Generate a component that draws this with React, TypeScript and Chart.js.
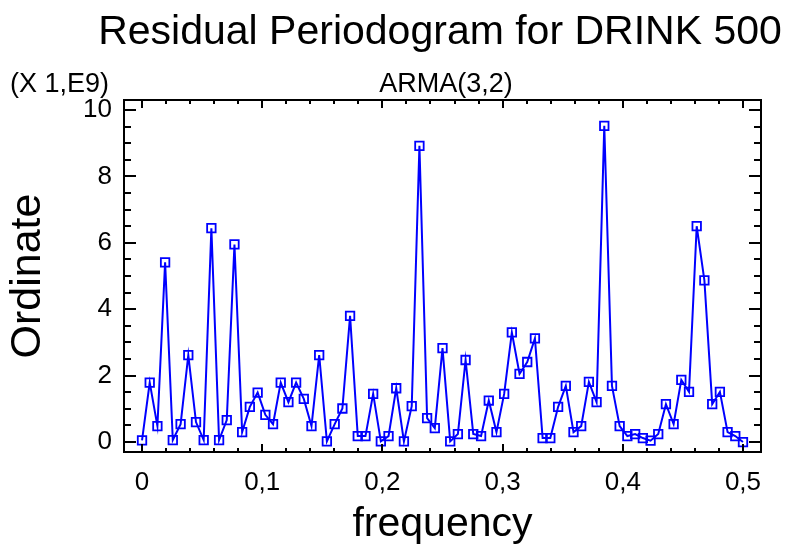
import React, { useEffect, useRef } from 'react';
import { Chart, registerables } from 'chart.js';

Chart.register(...registerables);

// ---- data ----
const FREQUENCY = [
  0.0, 0.0064, 0.0128, 0.0192, 0.0256, 0.0321, 0.0385, 0.0449, 0.0513, 0.0577,
  0.0641, 0.0705, 0.0769, 0.0833, 0.0897, 0.0962, 0.1026, 0.109, 0.1154, 0.1218,
  0.1282, 0.1346, 0.141, 0.1474, 0.1538, 0.1603, 0.1667, 0.1731, 0.1795, 0.1859,
  0.1923, 0.1987, 0.2051, 0.2115, 0.2179, 0.2244, 0.2308, 0.2372, 0.2436, 0.25,
  0.2564, 0.2628, 0.2692, 0.2756, 0.2821, 0.2885, 0.2949, 0.3013, 0.3077, 0.3141,
  0.3205, 0.3269, 0.3333, 0.3397, 0.3462, 0.3526, 0.359, 0.3654, 0.3718, 0.3782,
  0.3846, 0.391, 0.3974, 0.4038, 0.4103, 0.4167, 0.4231, 0.4295, 0.4359, 0.4423,
  0.4487, 0.4551, 0.4615, 0.4679, 0.4744, 0.4808, 0.4872, 0.4936, 0.5,
];

// ordinate in units of 1E9
const ORDINATE = [
  0.05, 1.79, 0.48, 5.41, 0.06, 0.54, 2.62, 0.6, 0.06, 6.44,
  0.06, 0.66, 5.95, 0.3, 1.06, 1.49, 0.82, 0.54, 1.79, 1.2,
  1.79, 1.3, 0.48, 2.62, 0.02, 0.54, 1.01, 3.8, 0.18, 0.18,
  1.45, 0.02, 0.18, 1.62, 0.02, 1.08, 8.92, 0.72, 0.42, 2.83,
  0.02, 0.24, 2.47, 0.24, 0.18, 1.25, 0.3, 1.45, 3.3, 2.05,
  2.41, 3.12, 0.12, 0.12, 1.06, 1.69, 0.3, 0.48, 1.81, 1.2,
  9.52, 1.69, 0.48, 0.18, 0.24, 0.12, 0.04, 0.24, 1.14, 0.54,
  1.87, 1.51, 6.5, 4.87, 1.14, 1.51, 0.3, 0.18, 0.0,
];

const X_RANGE = [-0.015, 0.515];
const Y_RANGE = [-0.3, 10.3];
const X_MAJOR = 0.1;
const X_MINOR = 0.02;
const Y_MAJOR = 2;
const Y_MINOR = 0.5;

const TITLE = 'Residual Periodogram for DRINK 500';
const SUBTITLE = 'ARMA(3,2)';
const MULTIPLIER = '(X 1,E9)';
const X_TITLE = 'frequency';
const Y_TITLE = 'Ordinate';

const FONT = '"Liberation Sans", Arial, Helvetica, sans-serif';
const BLUE = '#0000FF';

const fmtX = (v: number) => (Math.abs(v) < 1e-9 ? '0' : v.toFixed(1).replace('.', ','));
const fmtY = (v: number) => String(Math.round(v));

const framePlugin = {
  id: 'frameAndTexts',
  afterDraw(chart: any) {
    const { ctx, chartArea: a, scales } = chart;
    const xs = scales.x;
    const ys = scales.y;
    ctx.save();
    ctx.strokeStyle = '#000';
    ctx.lineWidth = 2;
    ctx.beginPath();
    // x inward ticks (top and bottom)
    const nx = Math.round(0.5 / X_MINOR);
    for (let i = 0; i <= nx; i++) {
      const v = i * X_MINOR;
      const px = Math.round(xs.getPixelForValue(v));
      const major = Math.abs(v / X_MAJOR - Math.round(v / X_MAJOR)) < 1e-6;
      const len = major ? 8 : 4;
      ctx.moveTo(px, a.bottom);
      ctx.lineTo(px, a.bottom - len);
      ctx.moveTo(px, a.top);
      ctx.lineTo(px, a.top + len);
    }
    // y inward ticks (left and right)
    const ny = Math.round(10 / Y_MINOR);
    for (let i = 0; i <= ny; i++) {
      const v = i * Y_MINOR;
      const py = Math.round(ys.getPixelForValue(v));
      const major = Math.abs(v / Y_MAJOR - Math.round(v / Y_MAJOR)) < 1e-6;
      const len = major ? 12 : 7;
      ctx.moveTo(a.left, py);
      ctx.lineTo(a.left + len, py);
      ctx.moveTo(a.right, py);
      ctx.lineTo(a.right - len, py);
    }
    ctx.stroke();
    ctx.lineWidth = 2;
    ctx.strokeRect(a.left, a.top, a.right - a.left, a.bottom - a.top);

    // texts above the plot
    ctx.fillStyle = '#000';
    ctx.textBaseline = 'alphabetic';
    ctx.textAlign = 'center';
    ctx.font = `41px ${FONT}`;
    ctx.fillText(TITLE, 440, 44);
    ctx.font = `27px ${FONT}`;
    ctx.fillText(SUBTITLE, 446, 92);
    ctx.textAlign = 'left';
    ctx.fillText(MULTIPLIER, 10, 92);
    ctx.restore();
  },
};

export default function App() {
  const ref = useRef<HTMLCanvasElement | null>(null);
  useEffect(() => {
    if (!ref.current) return;
    const chart = new Chart(ref.current, {
      type: 'line',
      data: {
        datasets: [
          {
            data: FREQUENCY.map((f, i) => ({ x: f, y: ORDINATE[i] })),
            borderColor: BLUE,
            borderWidth: 2,
            backgroundColor: 'rgba(0,0,0,0)',
            pointStyle: 'rect',
            pointRadius: 6,
            pointBorderWidth: 1.8,
            pointBorderColor: BLUE,
            pointBackgroundColor: 'rgba(0,0,0,0)',
            tension: 0,
            fill: false,
          },
        ],
      },
      options: {
        responsive: false,
        animation: false,
        devicePixelRatio: 1,
        parsing: false,
        layout: { padding: { top: 100, right: 27, left: 0, bottom: 0 } },
        plugins: {
          legend: { display: false },
          title: { display: false },
          tooltip: { enabled: false },
        },
        scales: {
          x: {
            type: 'linear',
            min: X_RANGE[0],
            max: X_RANGE[1],
            grid: { display: false, drawTicks: false },
            border: { display: false },
            ticks: {
              stepSize: X_MAJOR,
              includeBounds: false,
              autoSkip: false,
              maxRotation: 0,
              padding: 15,
              color: '#000',
              font: { size: 26, family: FONT },
              callback: (v: any) => fmtX(Number(v)),
            },
            title: {
              display: true,
              text: X_TITLE,
              color: '#000',
              font: { size: 41, family: FONT },
              padding: { top: 0, bottom: 0 },
            },
            afterFit: (s: any) => {
              s.height = 97;
            },
          },
          y: {
            type: 'linear',
            min: Y_RANGE[0],
            max: Y_RANGE[1],
            grid: { display: false, drawTicks: false },
            border: { display: false },
            ticks: {
              stepSize: Y_MAJOR,
              includeBounds: false,
              autoSkip: false,
              padding: 12,
              color: '#000',
              font: { size: 26, family: FONT },
              callback: (v: any) => fmtY(Number(v)),
            },
            title: {
              display: true,
              text: Y_TITLE,
              color: '#000',
              font: { size: 43, family: FONT },
              padding: { top: 2, bottom: 0 },
            },
            afterFit: (s: any) => {
              s.width = 124;
            },
          },
        },
      },
      plugins: [framePlugin],
    });
    return () => chart.destroy();
  }, []);
  return (
    <div style={{ position: 'fixed', left: 0, top: 0, width: 788, height: 549, background: '#fff' }}>
      <canvas ref={ref} width={788} height={549} style={{ display: 'block' }} />
    </div>
  );
}
